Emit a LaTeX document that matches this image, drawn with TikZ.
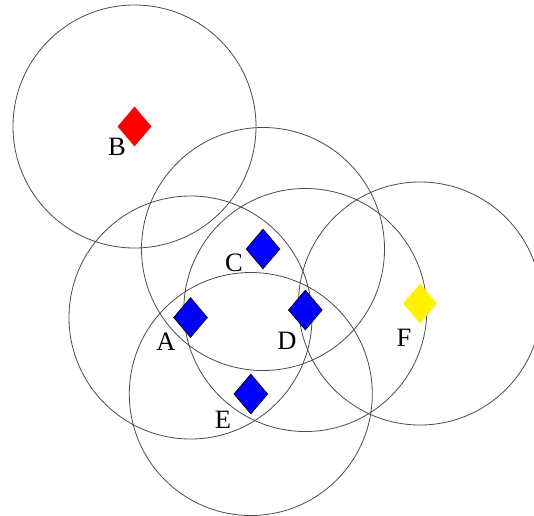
\documentclass[tikz,border=0pt]{standalone}
\usepackage{fontspec}
\setmainfont{Liberation Serif}
\usetikzlibrary{shapes.geometric}
\begin{document}
\begin{tikzpicture}[x=1pt,y=-1pt,
  ring/.style={draw=black!70, line width=0.8pt},
  gem/.style={diamond, inner sep=0pt, minimum width=34pt, minimum height=40pt, aspect=0.85},
  bluegem/.style={gem, fill=blue, draw=black, line width=0.6pt},
  lab/.style={font=\fontsize{26.5}{26.5}\selectfont, inner sep=0pt}]
\clip (0,0) rectangle (534,515);
\fill[white] (0,0) rectangle (534,515);
% circles
\draw[ring] (134.5,126.5) circle (121.5);
\draw[ring] (263,249) circle (121.5);
\draw[ring] (190.5,317.5) circle (121.5);
\draw[ring] (305.3,310) circle (121.5);
\draw[ring] (250.8,394) circle (121.5);
\draw[ring] (420,303.5) circle (121.5);
% markers
\node[gem, fill=red] (B) at (134.5,126.5) {};
\node[bluegem] (C) at (263,249) {};
\node[bluegem] (A) at (190.5,317.5) {};
\node[bluegem] (D) at (305.3,310) {};
\node[bluegem] (E) at (250.8,394) {};
\node[gem, fill=yellow] (F) at (420,303.5) {};
% labels
\node[lab] (lB) at (117,147) {B};
\node[lab] (lC) at (234,262.5) {C};
\node[lab] (lA) at (166,342) {A};
\node[lab] (lD) at (287,341) {D};
\node[lab] (lE) at (223,420) {E};
\node[lab] (lF) at (404,338) {F};
\end{tikzpicture}
\end{document}
